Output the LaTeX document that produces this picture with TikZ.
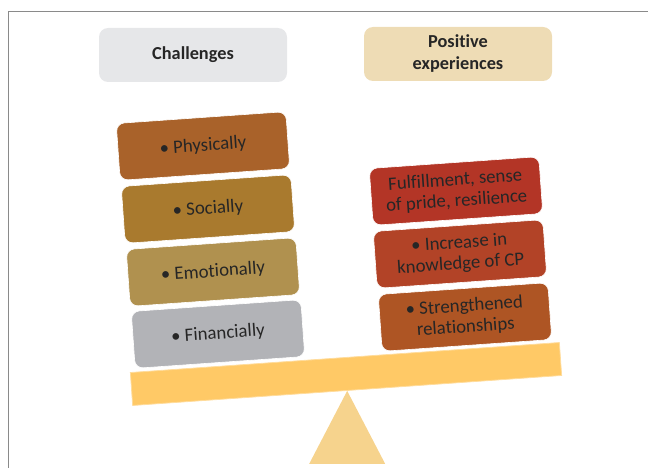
\documentclass[tikz,border=0pt]{standalone}
\usepackage{fontspec}
\setmainfont{Carlito}[Ligatures=NoCommon]
\usepackage{tikz}
\usepackage{xcolor}

\definecolor{txtcol}{HTML}{262626}
\definecolor{framecol}{HTML}{8A8A8A}
\definecolor{hdgray}{HTML}{E6E7E9}
\definecolor{hdtan}{HTML}{EEDCB5}
\definecolor{physcol}{HTML}{A9622A}
\definecolor{soccol}{HTML}{A97A2E}
\definecolor{emocol}{HTML}{B0914F}
\definecolor{fincol}{HTML}{B2B3B7}
\definecolor{fulcol}{HTML}{B33526}
\definecolor{inccol}{HTML}{B24327}
\definecolor{strcol}{HTML}{AE5524}
\definecolor{beamcol}{HTML}{FFC966}
\definecolor{beamedge}{HTML}{FFDC9C}
\definecolor{pivotcol}{HTML}{F6D38D}

\begin{document}
\begin{tikzpicture}[x=1pt, y=-1pt,
  every node/.style={text=txtcol},
  header/.style={rounded corners=9pt, minimum width=188pt, minimum height=54pt,
    align=center, font=\bfseries\fontsize{18.3}{22}\selectfont},
  item/.style={rounded corners=8pt, minimum width=170pt, minimum height=57pt,
    rotate=4, draw=white, line width=0.6pt, align=center,
    font=\fontsize{18.8}{21}\selectfont},
  beam/.style={minimum width=430pt, minimum height=33pt, rotate=4,
    fill=beamcol, draw=beamedge, line width=0.8pt}
]
  \useasboundingbox (0,0) rectangle (648,468);

  % Page frame (left and top edges only)
  \draw[framecol, line width=1pt] (8.5,468) -- (8.5,11.5) -- (648,11.5);

  % Column headers
  \node[header, fill=hdgray] (hc) at (193,55) {Challenges};
  \node[header, fill=hdtan] (hp) at (458,54) {Positive\\experiences};

  % Challenges stack on the left
  \node[item, fill=physcol] (cphys) at (203,146) {\textbullet\ Physically};
  \node[item, fill=soccol] (csoc) at (208,209) {\textbullet\ Socially};
  \node[item, fill=emocol] (cemo) at (213,272) {\textbullet\ Emotionally};
  \node[item, fill=fincol] (cfin) at (218,334) {\textbullet\ Financially};

  % Positive experiences stack on the right
  \node[item, fill=fulcol] (pful) at (456,191) {Fulfillment, sense\\of pride, resilience};
  \node[item, fill=inccol] (pinc) at (460,254) {\textbullet\ Increase in\\knowledge of CP};
  \node[item, fill=strcol] (pstr) at (465,317) {\textbullet\ Strengthened\\relationships};

  % Seesaw beam and pivot
  \node[beam] (beam) at (346,374) {};
  \fill[pivotcol] (beam.south) -- ++(38,73) -- ++(-76,0) -- cycle;
\end{tikzpicture}
\end{document}
